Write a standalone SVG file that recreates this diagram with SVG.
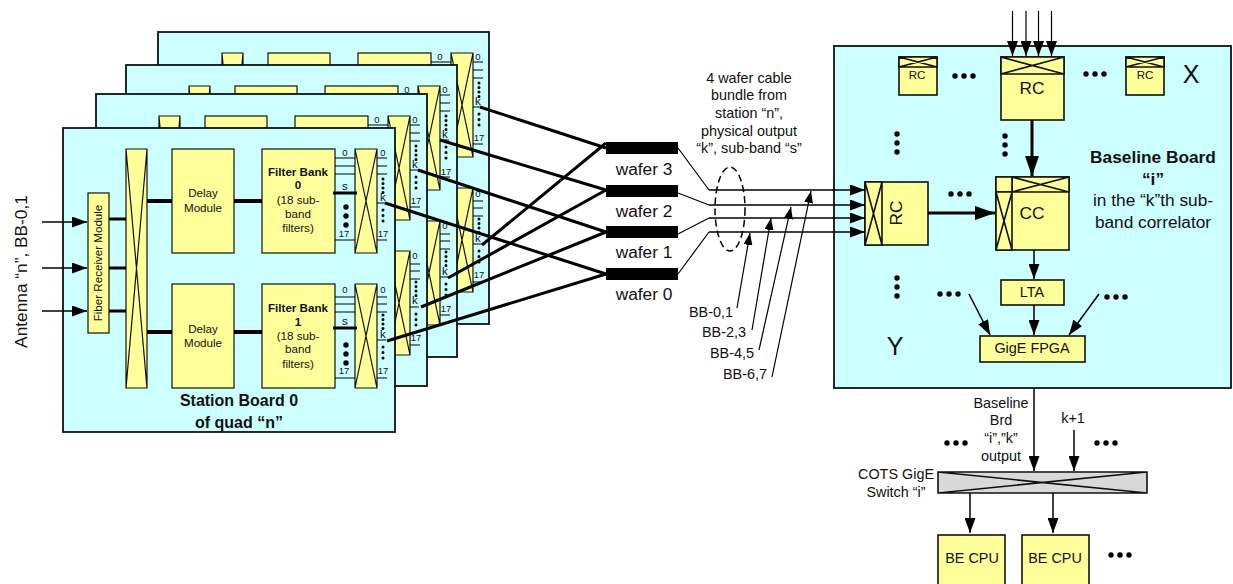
<svg xmlns="http://www.w3.org/2000/svg" width="1233" height="584" viewBox="0 0 1233 584">
<style>
text{font-family:"Liberation Sans",Arial,sans-serif;fill:#111;text-anchor:middle}
.s9{font-size:9.5px}.s11{font-size:11.6px}.s14{font-size:14.4px}.s17{font-size:17.3px}.s24{font-size:25px}.b{font-weight:bold}
.board{fill:#ccffff;stroke:#111;stroke-width:1.8}
.y{fill:#ffff99;stroke:#111;stroke-width:1.2}
.y2{fill:#ffff99;stroke:#111;stroke-width:1.6}
.w{fill:none;stroke:#000;stroke-width:1.2}
.w2{fill:none;stroke:#000;stroke-width:1.5}
.w3{fill:none;stroke:#000;stroke-width:3}
.w4{fill:none;stroke:#000;stroke-width:4}
.dl{fill:none;stroke:#000;stroke-width:5.4;stroke-linecap:round;stroke-dasharray:0 9}
.ds{fill:none;stroke:#000;stroke-width:3;stroke-linecap:round;stroke-dasharray:0 4.5}
.ds2{fill:none;stroke:#000;stroke-width:3;stroke-linecap:round;stroke-dasharray:0 5.5}
.a{marker-end:url(#ah)}.a2{marker-end:url(#ah2)}.a3{marker-end:url(#ah3)}
</style>
<defs>
<marker id="ah" markerUnits="userSpaceOnUse" markerWidth="15" markerHeight="11" refX="15" refY="5.5" orient="auto"><path d="M0 0L15 5.5L0 11z"/></marker>
<marker id="ah2" markerUnits="userSpaceOnUse" markerWidth="20" markerHeight="14" refX="20" refY="7" orient="auto"><path d="M0 0L20 7L0 14z"/></marker>
<marker id="ah3" markerUnits="userSpaceOnUse" markerWidth="12" markerHeight="9" refX="12" refY="4.5" orient="auto"><path d="M0 0L12 4.5L0 9z"/></marker>
<g id="inner">
<rect class="y" x="88" y="193" width="21" height="140"/>
<path class="y" d="M126 149h21v239h-21zM126 149L147 388M147 149L126 388"/>
<rect class="y" x="172" y="149" width="62" height="104"/>
<rect class="y" x="172" y="284" width="62" height="104"/>
<rect class="y" x="262" y="149" width="73" height="104"/>
<rect class="y" x="262" y="284" width="73" height="104"/>
<path class="w3" d="M109 219h17M109 268h17M109 311h17"/>
<path class="w4" d="M147 201h25M234 201h28M147 332h25M234 332h28"/>
<path class="y" d="M355 149h22v104h-22zM355 149L377 253M377 149L355 253"/>
<path class="y" d="M355 284h22v104h-22zM355 284L377 388M377 284L355 388"/>
<path class="w" d="M335 158h20M335 166h20M335 174h20M335 240h20M377 158h10M377 166h10M377 174h10M377 203h9M377 240h10"/>
<path class="w" d="M335 297h20M335 304h20M335 312h20M335 378h20M377 297h10M377 304h10M377 312h10M377 340h9M377 378h10"/>
<path class="w3" d="M333 193h24M333 328h24"/>
<path class="dl" d="M346 207v18.5M346 345v18.5"/>
<path class="ds" d="M383 179v14M383 315v14"/>
<path class="ds2" d="M383 210v11.5M383 347v11.5"/>
</g>
</defs>

<g id="board-3">
<rect class="board" x="158" y="32" width="331" height="292"/>
<use href="#inner" transform="translate(96 -96)"/>
<g transform="translate(95 -96)" class="s9">
<text class="s9" x="345" y="156">0</text><text class="s9" x="383" y="156">0</text><text class="s11" x="383" y="201">k</text><text class="s9" x="384" y="237">17</text>
<text class="s9" x="383" y="293">0</text><text class="s11" x="383" y="338">k</text><text class="s9" x="384" y="374">17</text>
</g>
</g>
<g id="board-2">
<rect class="board" x="126" y="65" width="331" height="292"/>
<use href="#inner" transform="translate(63 -63)"/>
<g transform="translate(62 -63)">
<text class="s9" x="345" y="156">0</text><text class="s9" x="383" y="156">0</text><text class="s11" x="383" y="201">k</text><text class="s9" x="384" y="238">17</text>
<text class="s9" x="383" y="292">0</text><text class="s11" x="383" y="338">k</text><text class="s9" x="384" y="375">17</text>
</g>
</g>
<g id="board-1">
<rect class="board" x="96" y="94" width="331" height="292"/>
<use href="#inner" transform="translate(33 -33)"/>
<g transform="translate(32 -33)">
<text class="s9" x="345" y="156">0</text><text class="s9" x="383" y="156">0</text><text class="s11" x="383" y="201">k</text><text class="s9" x="384" y="237">17</text>
<text class="s9" x="383" y="292">0</text><text class="s11" x="383" y="337">k</text><text class="s9" x="384" y="374">17</text>
</g>
</g>
<g id="board-0">
<rect class="board" x="63" y="128" width="332" height="304"/>
<use href="#inner"/>
<text class="s11" transform="translate(102 263) rotate(-90)">Fiber Receiver Module</text>
<text class="s11" x="203" y="197">Delay</text><text class="s11" x="203" y="212">Module</text>
<text class="s11" x="203" y="333">Delay</text><text class="s11" x="203" y="347">Module</text>
<text class="s11 b" x="298" y="176">Filter Bank</text><text class="s11 b" x="298" y="189">0</text>
<text class="s11" x="298" y="204">(18 sub-</text><text class="s11" x="298" y="218">band</text><text class="s11" x="298" y="232">filters)</text>
<text class="s11 b" x="298" y="312">Filter Bank</text><text class="s11 b" x="298" y="326">1</text>
<text class="s11" x="298" y="340">(18 sub-</text><text class="s11" x="298" y="353">band</text><text class="s11" x="298" y="368">filters)</text>
<text class="s9" x="345" y="156">0</text><text class="s9" x="383" y="156">0</text>
<text class="s11" x="345" y="190">s</text><text class="s11" x="383" y="201">k</text>
<text class="s9" x="344" y="237">17</text><text class="s9" x="383" y="237">17</text>
<text class="s9" x="345" y="293">0</text><text class="s9" x="383" y="293">0</text>
<text class="s11" x="345" y="325">s</text><text class="s11" x="383" y="338">k</text>
<text class="s9" x="344" y="374">17</text><text class="s9" x="383" y="374">17</text>
<text class="b" style="font-size:16px" x="239" y="406">Station Board 0</text>
<text class="b" style="font-size:16px" x="239" y="428">of quad “n”</text>
</g>

<g id="wafer-3"><rect x="606" y="142" width="72" height="12"/><text class="s17" x="644" y="175">wafer 3</text></g>
<g id="wafer-2"><rect x="606" y="185" width="72" height="12"/><text class="s17" x="644" y="217">wafer 2</text></g>
<g id="wafer-1"><rect x="606" y="226" width="72" height="12"/><text class="s17" x="644" y="258">wafer 1</text></g>
<g id="wafer-0"><rect x="606" y="268" width="72" height="12"/><text class="s17" x="644" y="300">wafer 0</text></g>

<g id="baseline-board">
<rect class="board" x="834" y="46" width="397" height="342"/>
<text class="s17 b" x="1153" y="163">Baseline Board</text>
<text class="s17 b" x="1153" y="185">“i”</text>
<text class="s17" x="1153" y="206">in the “k”th sub-</text>
<text class="s17" x="1153" y="228">band correlator</text>
<text class="s24" x="1191" y="83">X</text>
<text class="s24" x="895" y="355">Y</text>
<path class="dl" d="M955 76h18.5M1086 74h18.5M951 194h18.5M940 294h18.5M1107 297h18.5"/>
<path class="dl" d="M897 134v18.5M1005 136v18.5M897 278v18.5"/>
</g>
<g id="rc-left"><rect class="y2" x="899" y="57" width="38" height="38"/><path class="y2" d="M899 57h38v10h-38zM899 57L937 67M937 57L899 67"/><text class="s11" x="917" y="79">RC</text></g>
<g id="rc-center"><rect class="y2" x="1001" y="57" width="63" height="63"/><path class="y2" d="M1001 57h63v17h-63zM1001 57L1064 74M1064 57L1001 74"/><text class="s17" x="1032" y="94">RC</text></g>
<g id="rc-right"><rect class="y2" x="1126" y="57" width="38" height="38"/><path class="y2" d="M1126 57h38v10h-38zM1126 57L1164 67M1164 57L1126 67"/><text class="s11" x="1145" y="79">RC</text></g>
<g id="rc-y"><rect class="y2" x="865" y="182" width="63" height="63"/><path class="y2" d="M865 182h17v63h-17zM865 182L882 245M882 182L865 245"/><text class="s17" transform="translate(902 213) rotate(-90)">RC</text></g>
<g id="cc"><rect class="y2" x="996" y="177" width="73" height="73"/><path class="y2" d="M1012 177h57v15h-57zM1012 177L1069 192M1069 177L1012 192"/><path class="y2" d="M996 177h16v15h-16z"/><path class="y2" d="M996 192h16v58h-16zM996 192L1012 250M1012 192L996 250"/><text class="s17" x="1032" y="219">CC</text></g>
<g id="lta"><rect class="y2" x="1001" y="280" width="63" height="25"/><text class="s14" x="1032" y="297">LTA</text></g>
<g id="gige-fpga"><rect class="y2" x="980" y="336" width="105" height="26"/><text class="s14" x="1032" y="353">GigE FPGA</text></g>

<g id="cots-switch"><path d="M938 472h209v21h-209zM938 472L1147 493M1147 472L938 493" fill="#d9d9d9" stroke="#111" stroke-width="1.6"/><text class="s14" x="896" y="479">COTS GigE</text><text class="s14" x="896" y="497">Switch “i”</text></g>
<g id="be-cpu-1"><rect class="y2" x="938" y="535" width="67" height="60"/><text class="s14" x="972" y="563">BE CPU</text></g>
<g id="be-cpu-2"><rect class="y2" x="1022" y="535" width="67" height="60"/><text class="s14" x="1055" y="563">BE CPU</text></g>

<g id="labels">
<text class="s17" transform="translate(27 271.5) rotate(-90)">Antenna “n”, BB-0,1</text>
<text class="s14" x="749" y="83">4 wafer cable</text><text class="s14" x="749" y="100">bundle from</text><text class="s14" x="749" y="118">station “n”,</text><text class="s14" x="749" y="136">physical output</text><text class="s14" x="749" y="153">“k”, sub-band “s”</text>
<text class="s14" x="711" y="317">BB-0,1</text><text class="s14" x="724" y="337">BB-2,3</text><text class="s14" x="732" y="358">BB-4,5</text><text class="s14" x="745" y="379">BB-6,7</text>
<text class="s14" x="1001" y="408">Baseline</text><text class="s14" x="1001" y="425">Brd</text><text class="s14" x="1001" y="443">“i”,”k”</text><text class="s14" x="1001" y="461">output</text>
<text class="s14" x="1073" y="423">k+1</text>
<path class="dl" d="M947 443h18.5M1097 443h18.5M1111 555h18.5"/>
</g>

<g id="connectors">
<path class="w2 a" d="M42 222H87"/><path class="w2 a" d="M42 268H87"/><path class="w2 a" d="M42 311H87"/>
<path class="w3" d="M480 107L606 148M440 140L606 190M418 170L606 232M385 203L606 274"/>
<path class="w3" d="M482 245L606 143M448 278L606 190M421 307L606 232M387 341L606 274"/>
<path class="w" d="M678 148L709 190M678 193L709 205M678 234L709 218M678 274L709 232"/>
<path class="w2 a" d="M709 190H865"/><path class="w2 a" d="M709 205H865"/><path class="w2 a" d="M709 218H865"/><path class="w2 a" d="M709 232H865"/>
<ellipse cx="730" cy="209" rx="15" ry="42" fill="none" stroke="#000" stroke-width="1.5" stroke-dasharray="7 4"/>
<path class="w a3" d="M737 308L750 233"/><path class="w a3" d="M752 330L771 218"/><path class="w a3" d="M759 350L791 207"/><path class="w a3" d="M772 377L811 191"/>
<path class="w a" d="M1012.5 11V56"/><path class="w a" d="M1026 11V56"/><path class="w a" d="M1038.5 11V56"/><path class="w a" d="M1051.5 11V56"/>
<path class="w3 a2" d="M1032 120V176"/>
<path class="w3 a2" d="M928 213H995"/>
<path class="w2 a" d="M1034 250V279"/><path class="w2 a" d="M1034 305V335"/>
<path class="w2 a" d="M969 294L990 335"/><path class="w2 a" d="M1099 294L1069 335"/>
<path class="w2 a" d="M1034 388V471"/><path class="w2 a" d="M1074 430V471"/>
<path class="w2 a" d="M970 493V533"/><path class="w2 a" d="M1053 493V533"/>
</g>
</svg>
